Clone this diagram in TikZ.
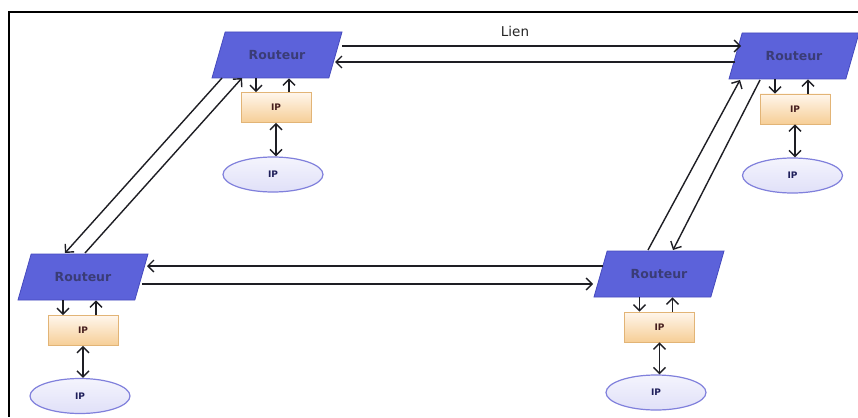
\documentclass[tikz,border=0pt]{standalone}
\usepackage{fontspec}
\setmainfont{DejaVu Sans}
\usetikzlibrary{shapes.geometric,arrows.meta}

\definecolor{routerfill}{RGB}{92,98,218}
\definecolor{routerdraw}{RGB}{70,74,190}
\definecolor{routertext}{RGB}{58,60,118}
\definecolor{iptop}{RGB}{255,246,236}
\definecolor{ipbot}{RGB}{246,206,150}
\definecolor{ipdraw}{RGB}{226,180,118}
\definecolor{iptext}{RGB}{70,30,30}
\definecolor{ovtop}{RGB}{244,244,253}
\definecolor{ovbot}{RGB}{224,224,248}
\definecolor{ovdraw}{RGB}{128,128,220}
\definecolor{ovtext}{RGB}{30,30,90}
\definecolor{linkcol}{RGB}{30,30,36}

\tikzset{
  router/.style={trapezium, trapezium left angle=74, trapezium right angle=106,
    trapezium stretches body, minimum width=130pt,
    text height=9pt, text depth=0pt, inner ysep=18.5pt, inner xsep=0pt,
    fill=routerfill, draw=routerdraw, line width=0.8pt,
    text=routertext, font=\fontsize{12.5}{12.5}\selectfont\bfseries},
  ipbox/.style={rectangle, minimum width=70pt, minimum height=30pt, inner sep=0pt,
    top color=iptop, bottom color=ipbot, draw=ipdraw, line width=0.8pt,
    text=iptext, font=\fontsize{9}{9}\selectfont\bfseries},
  ipoval/.style={ellipse, minimum width=100pt, minimum height=35pt, inner sep=0pt,
    top color=ovtop, bottom color=ovbot, draw=ovdraw, line width=1.2pt,
    text=ovtext, font=\fontsize{9}{9}\selectfont\bfseries},
  link/.style={draw=linkcol, line width=1.4pt, -{Straight Barb[length=6pt,width=12pt,line width=1.4pt]}},
  duplex/.style={draw=linkcol, line width=1.4pt, {Straight Barb[length=6pt,width=12pt,line width=1.4pt]}-{Straight Barb[length=6pt,width=12pt,line width=1.4pt]}},
  frameline/.style={draw=black, line width=1.5pt}
}

\begin{document}
\begin{tikzpicture}[x=1pt,y=-1pt]
\useasboundingbox (0,0) rectangle (858,417);
\fill[white] (0,0) rectangle (858,417);

% page frame
\coordinate (ftl) at (9,12);
\coordinate (ftr) at (858,12);
\coordinate (fbl) at (9,417);
\draw[frameline] (ftr) -- (ftl) -- (fbl);

% routers
\node[router] (r1) at (277,55) {Routeur};
\node[router] (r2) at (794,56) {Routeur};
\node[router] (r3) at (83,277) {Routeur};
\node[router] (r4) at (659,274) {Routeur};

% IP boxes
\node[ipbox] (p1) at (276,107.5) {IP};
\node[ipbox] (p2) at (795,109) {IP};
\node[ipbox] (p3) at (83,330.5) {IP};
\node[ipbox] (p4) at (659.5,327) {IP};

% IP ovals
\node[ipoval] (e1) at (273,174.5) {IP};
\node[ipoval] (e2) at (792.5,175.5) {IP};
\node[ipoval] (e3) at (80,396) {IP};
\node[ipoval] (e4) at (656,392.5) {IP};

% label
\node[font=\fontsize{13.5}{13.5}\selectfont, text=black!85] (lien) at (515,31) {Lien};

% top links
\draw[link] ([shift={(65,-9)}]r1.center) -- ([shift={(-53,-10)}]r2.center);
\draw[link] ([shift={(-59,6)}]r2.center) -- ([shift={(58,7)}]r1.center);

% bottom links
\draw[link] ([shift={(-56,-8)}]r4.center) -- ([shift={(64,-11)}]r3.center);
\draw[link] ([shift={(59,7)}]r3.center) -- ([shift={(-66,10)}]r4.center);

% left diagonal links
\draw[link] ([shift={(-55,23)}]r1.center) -- ([shift={(-18,-24)}]r3.center);
\draw[link] ([shift={(2,-24)}]r3.center) -- ([shift={(-35,23)}]r1.center);

% right diagonal links
\draw[link] ([shift={(-11,-24)}]r4.center) -- ([shift={(-54,24)}]r2.center);
\draw[link] ([shift={(-34,24)}]r2.center) -- ([shift={(14,-24)}]r4.center);

% router <-> IP box arrows and IP box <-> oval arrows
\foreach \r/\p/\e in {r1/p1/e1, r2/p2/e2, r3/p3/e3, r4/p4/e4}{
  \draw[link] ([xshift=-20pt]\p.north |- \r.south) -- ([xshift=-20pt]\p.north);
  \draw[link] ([xshift=13pt]\p.north) -- ([xshift=13pt]\p.north |- \r.south);
  \draw[duplex] (\p.south) -- (\p.south |- \e.north);
}
\end{tikzpicture}
\end{document}
